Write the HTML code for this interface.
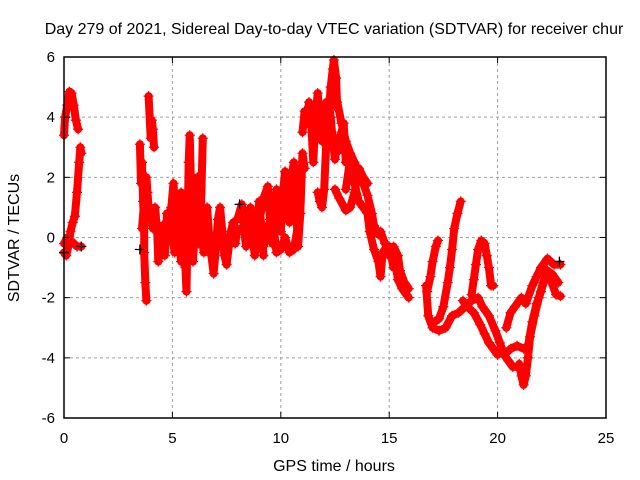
<!DOCTYPE html>
<html><head><meta charset="utf-8"><style>
html,body{margin:0;padding:0;background:#fff}
svg{display:block;font-family:"Liberation Sans",sans-serif}
</style></head><body>
<svg id="chart" width="640" height="480" viewBox="0 0 640 480" xmlns="http://www.w3.org/2000/svg">
<rect width="640" height="480" fill="#fff"/>
<text x="334" y="34" text-anchor="middle" font-size="16">Day 279 of 2021, Sidereal Day-to-day VTEC variation (SDTVAR) for receiver chur</text>
<g id="grid"></g><g id="data"></g><g id="axes"></g>
<text x="334" y="471" text-anchor="middle" font-size="16">GPS time / hours</text>
<text transform="translate(19,238) rotate(-90)" text-anchor="middle" font-size="16">SDTVAR / TECUs</text>
</svg>
<script>
const xTicks=[0,5,10,15,20,25];
const yTicks=[-6,-4,-2,0,2,4,6];
const trackA1=[[0,-0.5],[0.1,-0.6],[0.2,-0.3],[0.3,0.2],[0.4,0.5],[0.5,0.7],[0.6,1.5],[0.7,2.5],[0.75,3.0],[0.8,2.8]];
const trackA2=[[0,3.4],[0.05,4.0],[0.15,4.4],[0.25,4.85],[0.35,4.8],[0.45,4.4],[0.55,3.9],[0.65,3.6]];
const trackA3=[[0,-0.2],[0.15,0.0],[0.3,-0.1],[0.45,-0.2],[0.6,-0.3],[0.8,-0.3]];
const trackB1=[[3.5,3.1],[3.55,1.8],[3.6,2.5],[3.65,1.2],[3.7,0.4],[3.7,-0.5],[3.75,-1.5],[3.8,-2.1]];
const trackB2=[[3.6,0.3],[3.7,1.2],[3.8,2.0],[3.85,1.5],[3.9,1.0],[4.0,0.8],[4.1,0.3],[4.2,1.0],[4.3,0.2],[4.35,-0.8],[4.45,-0.3],[4.55,0.4],[4.65,-0.6],[4.75,0.8],[4.85,0.2],[4.95,1.0]];
const trackB3=[[3.9,4.7],[4.0,3.3],[4.05,3.9],[4.1,3.6],[4.15,3.0]];
const trackB4=[[4.95,1.0],[5.05,1.8],[5.15,0.6],[5.2,-0.3],[5.3,0.8],[5.4,1.5],[5.5,0.0],[5.6,-1.0],[5.65,-1.8],[5.7,0.5],[5.75,2.5],[5.8,3.4],[5.85,2.0],[5.9,0.3],[5.95,-0.8],[6.05,0.5],[6.15,2.0],[6.25,1.6],[6.35,0.0],[6.45,-0.5],[6.55,0.3]];
const trackB5=[[5.0,0.0],[5.1,-0.5],[5.25,0.3],[5.4,-0.8],[5.5,0.8],[5.6,1.2],[5.7,0.2],[5.85,-0.6],[6.0,0.0],[6.2,-0.2],[6.3,0.5],[6.4,3.3]];
const trackB6=[[6.5,0.3],[6.6,1.0],[6.7,0.0],[6.8,-0.6],[6.9,-1.2],[7.0,-0.4],[7.1,0.6],[7.2,1.0],[7.3,0.2],[7.4,-0.6],[7.5,-0.9],[7.6,-0.3],[7.7,0.2],[7.8,0.5],[7.9,-0.2],[8.0,0.3]];
const trackB7=[[8.0,0.6],[8.2,1.1],[8.3,0.3],[8.4,-0.3],[8.5,0.5],[8.6,1.0],[8.7,0.0],[8.8,-0.6],[8.9,0.2],[9.0,1.2],[9.1,0.4],[9.2,-0.6]];
const trackB8=[[9.0,0.5],[9.2,1.3],[9.4,1.7],[9.5,0.6],[9.6,-0.2],[9.7,0.8],[9.8,1.6],[9.9,1.0],[10.0,0.2],[10.1,1.5],[10.2,2.2],[10.3,1.2],[10.4,0.5],[10.5,2.0],[10.6,2.5],[10.7,1.0],[10.8,-0.3],[10.9,0.8],[11.0,2.8],[11.1,2.3]];
const trackB9=[[9.2,-0.3],[9.4,0.3],[9.6,0.8],[9.8,-0.5],[10.0,-0.4],[10.2,0.0],[10.4,-0.5],[10.6,-0.4],[10.8,0.4]];
const trackC1=[[11.0,3.5],[11.1,4.2],[11.2,3.8],[11.3,4.5],[11.4,3.8],[11.5,2.5],[11.6,4.0],[11.7,4.8],[11.8,3.8],[11.9,3.2],[12.0,4.2],[12.1,4.5],[12.2,4.0],[12.3,5.0],[12.4,5.6],[12.45,5.9],[12.55,5.3],[12.6,4.3]];
const trackC2=[[11.7,1.5],[11.8,1.2],[11.9,1.0],[12.0,1.6],[12.1,3.2],[12.2,4.5],[12.3,4.0],[12.4,3.2],[12.5,2.6],[12.6,3.3],[12.7,2.9],[12.8,3.5],[12.9,3.8],[13.0,2.5]];
const trackC3=[[12.6,4.5],[12.8,3.8],[13.0,3.2],[13.2,2.8],[13.4,2.5],[13.6,2.0],[13.8,1.8],[14.0,1.4],[14.2,0.8],[14.3,0.4],[14.5,0.1],[14.6,0.2],[14.8,-0.2],[15.0,-0.3],[15.2,-1.0],[15.3,-0.9],[15.4,-1.4],[15.6,-1.7],[15.8,-1.9],[15.9,-2.0]];
const trackC4=[[13.0,1.6],[13.2,2.6],[13.4,1.8],[13.6,1.2],[13.8,1.0],[14.0,0.8],[14.1,0.2],[14.3,-0.4],[14.5,-0.8],[14.6,-1.3],[14.7,-0.5],[14.9,-0.3],[15.0,-0.6],[15.2,-0.3],[15.4,-0.6],[15.5,-1.1],[15.7,-1.5],[15.9,-1.7]];
const trackC5=[[12.5,1.6],[12.7,1.3],[13.0,0.9],[13.2,1.0],[13.4,1.5],[13.6,2.3],[13.8,2.0],[14.0,1.8]];
const trackD1=[[16.7,-1.6],[16.8,-2.6],[17.0,-3.0],[17.3,-3.1],[17.6,-3.0],[17.9,-2.6],[18.2,-2.5],[18.5,-2.3],[18.8,-2.1],[19.1,-2.0],[19.3,-2.3],[19.6,-2.6],[19.9,-3.1],[20.1,-3.5],[20.3,-3.9],[20.6,-3.7],[20.9,-3.6],[21.2,-3.7],[21.4,-3.6],[21.6,-2.8],[21.8,-2.2],[22.0,-1.8],[22.2,-1.3],[22.5,-1.2],[22.8,-1.5]];
const trackD2=[[17.1,-2.8],[17.3,-2.7],[17.5,-2.3],[17.7,-1.5],[17.8,-1.0],[17.9,-0.4],[18.0,0.3],[18.15,0.8],[18.3,1.2]];
const trackD3=[[16.75,-1.8],[16.9,-1.3],[17.0,-0.8],[17.15,-0.3],[17.25,-0.1]];
const trackD4=[[18.8,-1.9],[18.9,-1.4],[19.0,-0.9],[19.1,-0.4],[19.25,-0.1],[19.4,-0.2],[19.5,-0.6],[19.6,-1.0],[19.7,-1.6],[19.8,-1.6]];
const trackD5=[[18.4,-2.1],[18.6,-2.3],[18.9,-2.5],[19.2,-2.9],[19.4,-3.2],[19.6,-3.5],[19.8,-3.7],[20.0,-3.9],[20.2,-3.8],[20.5,-4.1],[20.7,-4.3],[20.9,-4.3]];
const trackD6=[[20.4,-3.0],[20.6,-2.5],[20.8,-2.3],[21.1,-2.0],[21.3,-2.2],[21.6,-1.6],[21.8,-1.3],[22.0,-1.0],[22.3,-0.7],[22.6,-0.9],[22.9,-0.9]];
const trackD7=[[21.0,-4.2],[21.1,-4.6],[21.2,-4.9],[21.3,-4.6],[21.4,-4.0],[21.5,-3.3],[21.7,-2.6],[21.9,-2.0],[22.1,-1.5],[22.3,-1.1],[22.5,-1.5],[22.7,-1.9],[22.9,-1.95]];
const blackPts=[[0.0,-0.5],[0.8,-0.3],[3.5,-0.4],[8.1,1.1],[22.85,-0.8]];
const tracks=[trackA1,trackA2,trackA3,trackB1,trackB2,trackB3,trackB4,trackB5,trackB6,trackB7,trackB8,trackB9,trackC1,trackC2,trackC3,trackC4,trackC5,trackD1,trackD2,trackD3,trackD4,trackD5,trackD6,trackD7];

const X0=64,X1=606,Y0=418,Y1=57;
const xs=v=>X0+(v-0)/(25-0)*(X1-X0);
const ys=v=>Y0-(v+6)/12*(Y0-Y1);
const NS="http://www.w3.org/2000/svg";
function mk(tag,attrs,parent){const e=document.createElementNS(NS,tag);for(const k in attrs)e.setAttribute(k,attrs[k]);parent.appendChild(e);return e;}
const grid=document.getElementById('grid'),axes=document.getElementById('axes'),data=document.getElementById('data');

xTicks.forEach(t=>{
  const x=xs(t);
  if(t>0&&t<25){const g=mk('line',{x1:x,y1:Y1,x2:x,y2:Y0,stroke:'#a0a0a0','stroke-dasharray':'3,3'},grid);
  
  }
  mk('line',{x1:x,y1:Y0,x2:x,y2:Y0-6,stroke:'#000'},axes);
  mk('line',{x1:x,y1:Y1,x2:x,y2:Y1+6,stroke:'#000'},axes);
  const l=mk('text',{x:x,y:Y0+25,'text-anchor':'middle','font-size':'15'},axes);
  l.textContent=t;
  
  
});
yTicks.forEach(t=>{
  const y=ys(t);
  if(t>-6&&t<6){const g=mk('line',{x1:X0,y1:y,x2:X1,y2:y,stroke:'#a0a0a0','stroke-dasharray':'3,3'},grid);
  
  }
  mk('line',{x1:X0,y1:y,x2:X0+6,y2:y,stroke:'#000'},axes);
  mk('line',{x1:X1,y1:y,x2:X1-6,y2:y,stroke:'#000'},axes);
  const l=mk('text',{x:X0-9,y:y+5,'text-anchor':'end','font-size':'15'},axes);
  l.textContent=t;
  
  
});
const fr=mk('rect',{x:X0,y:Y1,width:X1-X0,height:Y0-Y1,fill:'none',stroke:'#000','stroke-width':'1.5'},axes);



function plus(x,y,col,parent){
  mk('path',{d:`M${x-5},${y}H${x+5}M${x},${y-5}V${y+5}`,stroke:col,'stroke-width':'1.3',fill:'none'},parent);
}
tracks.forEach((tr,i)=>{
  const g=mk('g',{},data);
  
  
  const pts=tr.map(p=>xs(p[0]).toFixed(1)+','+ys(p[1]).toFixed(1)).join(' ');
  mk('polyline',{points:pts,fill:'none',stroke:'#ff0000','stroke-width':'8','stroke-linejoin':'round','stroke-linecap':'round'},g);
  tr.forEach(p=>plus(xs(p[0]),ys(p[1]),'#ff0000',g));
});
const bg=mk('g',{},data);


blackPts.forEach(p=>plus(xs(p[0]),ys(p[1]),'#000',bg));
</script>
</body></html>
